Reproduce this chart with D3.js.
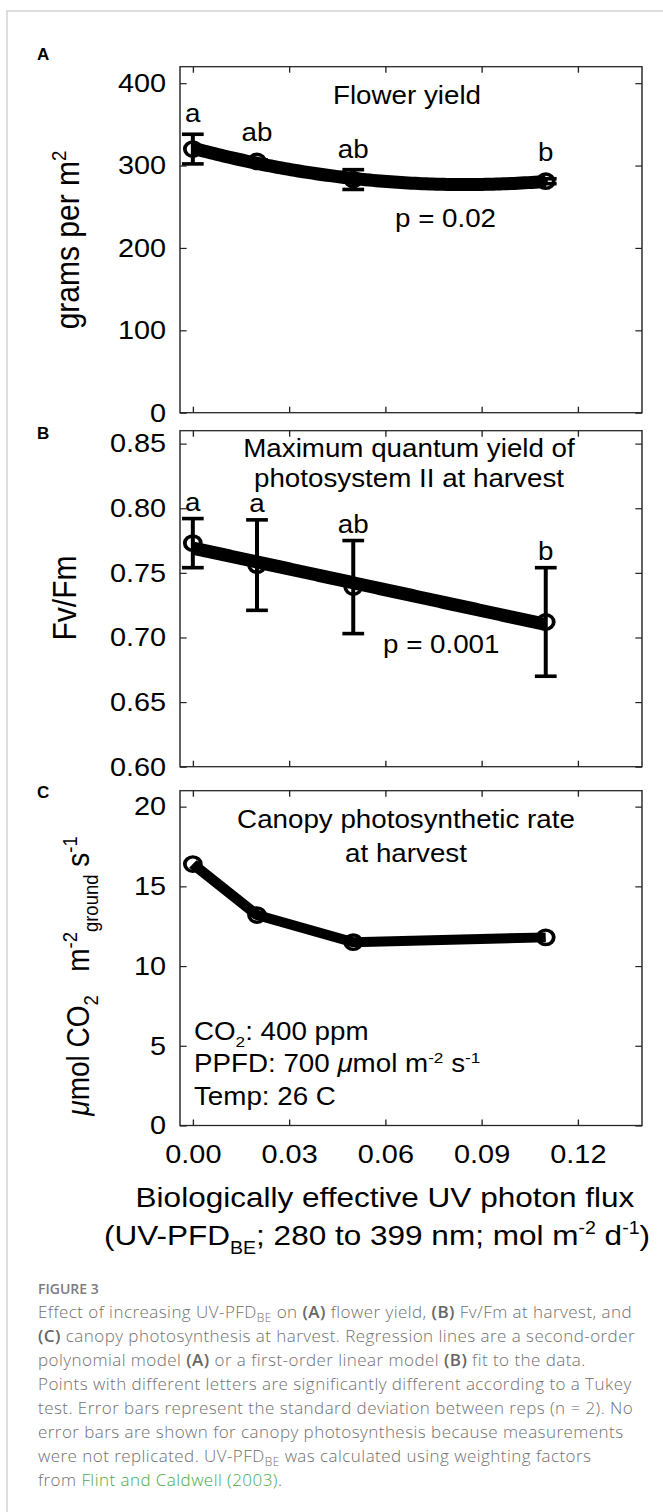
<!DOCTYPE html>
<html>
<head>
<meta charset="utf-8">
<script src="https://cdn.jsdelivr.net/npm/d3@7"></script>
<style>
  body { margin: 0; background: #fff; }
  svg { display: block; }
</style>
</head>
<body>
<div id="chart"></div>
<script>
// ---- 数据 ----
const uvFlux = [0, 0.02, 0.05, 0.11];

const flowerYield = [320, 305, 283, 281];
const flowerYieldSd = [18, 2, 12, 3];
const flowerLetters = ["a", "ab", "ab", "b"];

const fvFm = [0.773, 0.756, 0.739, 0.712];
const fvFmSd = [0.019, 0.035, 0.036, 0.042];
const fvFmLetters = ["a", "a", "ab", "b"];

const canopyRate = [16.4, 13.2, 11.5, 11.8];

const xTicks = [0, 0.03, 0.06, 0.09, 0.12];
const yTicksA = [0, 100, 200, 300, 400];
const yTicksB = [0.60, 0.65, 0.70, 0.75, 0.80, 0.85];
const yTicksC = [0, 5, 10, 15, 20];

const captionLines = [
  [["Effect of increasing UV-PFD"], ["BE", "sub"], [" on "], ["(A)", "b"], [" flower yield, "], ["(B)", "b"], [" Fv/Fm at harvest, and"]],
  [["(C)", "b"], [" canopy photosynthesis at harvest. Regression lines are a second-order"]],
  [["polynomial model "], ["(A)", "b"], [" or a first-order linear model "], ["(B)", "b"], [" fit to the data."]],
  [["Points with different letters are significantly different according to a Tukey"]],
  [["test. Error bars represent the standard deviation between reps (n = 2). No"]],
  [["error bars are shown for canopy photosynthesis because measurements"]],
  [["were not replicated. UV-PFD"], ["BE", "sub"], [" was calculated using weighting factors"]],
  [["from "], ["Flint and Caldwell (2003)", "link"], ["."]]
];

// ---- 布局 ----
const W = 663, H = 1512;
const SX = 1.11;               // 原图横向被拉伸
const sx = v => v / SX;        // 屏幕 x -> 拉伸前坐标
const plotL = 180, plotR = 642;

const svg = d3.select("#chart").append("svg")
  .attr("width", W).attr("height", H)
  .style("font-family", "'Liberation Sans', Arial, Helvetica, sans-serif");

// 外框（左、上）
svg.append("path")
  .attr("d", `M7,${H} V11 H${W}`)
  .attr("fill", "none").attr("stroke", "#d2d2d2").attr("stroke-width", 1.5);

const fig = svg.append("g").attr("transform", `scale(${SX},1)`);

const x = d3.scaleLinear().domain([-0.004, 0.14]).range([sx(plotL), sx(plotR)]);

// 带上下标的文字
function rich(sel, parts, size, small = 0.62) {
  let shift = 0;
  parts.forEach(([str, kind]) => {
    const target = kind === "sub" ? size * 0.3 : kind === "sup" ? -size * 0.38 : 0;
    const ts = sel.append("tspan").attr("dy", target - shift).text(str);
    if (kind === "sub" || kind === "sup") ts.attr("font-size", size * small);
    if (kind === "it") ts.attr("font-style", "italic");
    shift = target;
  });
}

// 多项式最小二乘拟合
function polyfit(xs, ys, deg) {
  const n = deg + 1;
  const A = d3.range(n).map(() => new Array(n + 1).fill(0));
  xs.forEach((xv, k) => {
    for (let i = 0; i < n; i++) {
      for (let j = 0; j < n; j++) A[i][j] += Math.pow(xv, i + j);
      A[i][n] += ys[k] * Math.pow(xv, i);
    }
  });
  for (let i = 0; i < n; i++) {
    let p = i;
    for (let r = i + 1; r < n; r++) if (Math.abs(A[r][i]) > Math.abs(A[p][i])) p = r;
    [A[i], A[p]] = [A[p], A[i]];
    for (let r = 0; r < n; r++) {
      if (r === i) continue;
      const f = A[r][i] / A[i][i];
      for (let c = i; c <= n; c++) A[r][c] -= f * A[i][c];
    }
  }
  const coef = A.map((row, i) => row[n] / row[i]);
  return xv => coef.reduce((s, c, i) => s + c * Math.pow(xv, i), 0);
}

const NB = "\u00a0";
const panels = [
  { letter: "A", letterY: 60, top: 66.7, bottom: 412.7, domain: [0, 420], ticks: yTicksA, fmt: d3.format("d"),
    values: flowerYield, sd: flowerYieldSd, labels: flowerLetters, labelGap: 12, fit: 2, lineW: 13,
    yTitle: [["grams per m"], ["2", "sup"]], yTitleX: 79, yTitleY: 240, yTitleSize: 30, small: 0.62 },
  { letter: "B", letterY: 439, top: 430.7, bottom: 766.7, domain: [0.6, 0.86], ticks: yTicksB, fmt: d3.format(".2f"),
    values: fvFm, sd: fvFmSd, labels: fvFmLetters, labelGap: 7.5, fit: 1, lineW: 13,
    yTitle: [["Fv/Fm"]], yTitleX: 76, yTitleY: 598, yTitleSize: 30, small: 0.62 },
  { letter: "C", letterY: 798, top: 790.7, bottom: 1125.5, domain: [0, 21], ticks: yTicksC, fmt: d3.format("d"),
    values: canopyRate, sd: null, labels: null, fit: 0, lineW: 10,
    yTitle: [["\u03bc", "it"], ["mol CO"], ["2", "sub"], [NB + NB + NB + "m"], ["-2", "sup"], ["ground", "sub"], [NB + "s"], ["-1", "sup"]],
    yTitleX: 89, yTitleY: 976, yTitleSize: 28, small: 0.66 }
];

panels.forEach((p, pi) => {
  const y = d3.scaleLinear().domain(p.domain).range([p.bottom, p.top]);
  const g = fig.append("g");

  // 坐标轴（刻度朝内，四边）
  const tickLen = -6;
  g.append("g").attr("transform", `translate(${sx(plotL)},0)`)
    .call(d3.axisLeft(y).tickValues(p.ticks).tickFormat(p.fmt).tickSize(tickLen).tickPadding(12.6));
  g.append("g").attr("transform", `translate(${sx(plotR)},0)`)
    .call(d3.axisRight(y).tickValues(p.ticks).tickFormat("").tickSize(tickLen));
  g.append("g").attr("transform", `translate(0,${p.top})`)
    .call(d3.axisTop(x).tickValues(xTicks).tickFormat("").tickSize(tickLen));
  g.append("g").attr("transform", `translate(0,${p.bottom})`)
    .call(d3.axisBottom(x).tickValues(xTicks).tickFormat(pi === 2 ? d3.format(".2f") : "")
      .tickSize(tickLen).tickPadding(19.5));
  g.selectAll(".domain").remove();
  g.selectAll(".tick line").attr("stroke", "#222").attr("stroke-width", 1.2);
  g.selectAll(".tick text").attr("fill", "#000").attr("font-size", 26)
    .attr("font-family", "'Liberation Sans', Arial, sans-serif");

  g.append("rect")
    .attr("x", sx(plotL)).attr("y", p.top)
    .attr("width", sx(plotR) - sx(plotL)).attr("height", p.bottom - p.top)
    .attr("fill", "none").attr("stroke", "#262626").attr("stroke-width", 1.3);

  const pts = uvFlux.map((u, i) => ({ u, v: p.values[i], sd: p.sd ? p.sd[i] : 0, lab: p.labels ? p.labels[i] : null }));

  // 拟合线 / 折线
  if (p.fit > 0) {
    const f = polyfit(uvFlux, p.values, p.fit);
    const fx = d3.range(0, 0.1101, 0.0011);
    g.append("path")
      .datum(fx)
      .attr("fill", "none").attr("stroke", "#000").attr("stroke-width", p.lineW)
      .attr("d", d3.line().x(d => x(d)).y(d => y(f(d))));
  } else {
    g.append("path")
      .datum(pts)
      .attr("fill", "none").attr("stroke", "#000").attr("stroke-width", p.lineW)
      .attr("stroke-linejoin", "round")
      .attr("d", d3.line().x(d => x(d.u)).y(d => y(d.v)));
  }

  // 误差线
  if (p.sd) {
    const eb = g.append("g").attr("stroke", "#000").attr("stroke-width", 3.6);
    pts.forEach(d => {
      eb.append("line").attr("x1", x(d.u)).attr("x2", x(d.u)).attr("y1", y(d.v - d.sd)).attr("y2", y(d.v + d.sd));
      [d.v - d.sd, d.v + d.sd].forEach(v => {
        eb.append("line").attr("x1", x(d.u) - 9.8).attr("x2", x(d.u) + 9.8).attr("y1", y(v)).attr("y2", y(v));
      });
    });
  }

  // 数据点（空心圆）
  g.selectAll("circle.pt").data(pts).join("circle")
    .attr("class", "pt")
    .attr("cx", d => x(d.u)).attr("cy", d => y(d.v)).attr("r", 7.2)
    .attr("fill", "none").attr("stroke", "#000").attr("stroke-width", 3.4);

  // 显著性字母
  if (p.labels) {
    g.selectAll("text.sig").data(pts).join("text")
      .attr("class", "sig")
      .attr("x", d => x(d.u))
      .attr("y", d => Math.min(y(d.v + d.sd), y(d.v) - 8) - p.labelGap)
      .attr("text-anchor", "middle").attr("font-size", 25)
      .text(d => d.lab);
  }

  // y 轴标题
  const yt = g.append("text")
    .attr("transform", `translate(${sx(p.yTitleX)},${p.yTitleY}) rotate(-90)`)
    .attr("text-anchor", "middle").attr("font-size", p.yTitleSize);
  rich(yt, p.yTitle, p.yTitleSize, p.small);

  // 面板字母
  svg.append("text").attr("x", 37).attr("y", p.letterY)
    .attr("font-size", 17).attr("font-weight", "bold").text(p.letter);
});

// 面板内文字
function label(lines, cx, y0, dy, anchor) {
  lines.forEach((parts, i) => {
    const t = fig.append("text")
      .attr("x", sx(cx)).attr("y", y0 + i * dy)
      .attr("text-anchor", anchor).attr("font-size", 25);
    rich(t, parts, 25);
  });
}
label([[["Flower yield"]]], 407, 104, 0, "middle");
label([[["p = 0.02"]]], 395, 227, 0, "start");
label([[["Maximum quantum yield of"]], [["photosystem II at harvest"]]], 409, 456.7, 30.6, "middle");
label([[["p = 0.001"]]], 383, 653, 0, "start");
label([[["Canopy photosynthetic rate"]], [["at harvest"]]], 406, 828.3, 33.4, "middle");
label([
  [["CO"], ["2", "sub"], [": 400 ppm"]],
  [["PPFD: 700 "], ["\u03bc", "it"], ["mol m"], ["-2", "sup"], [" s"], ["-1", "sup"]],
  [["Temp: 26 C"]]
], 194, 1040, 32.5, "start");

// x 轴标题
const xt1 = fig.append("text").attr("x", sx(385)).attr("y", 1206.7)
  .attr("text-anchor", "middle").attr("font-size", 28.4);
rich(xt1, [["Biologically effective UV photon flux"]], 28.4);
const xt2 = fig.append("text").attr("x", sx(377)).attr("y", 1245)
  .attr("text-anchor", "middle").attr("font-size", 28.4);
rich(xt2, [["(UV-PFD"], ["BE", "sub"], ["; 280 to 399 nm; mol m"], ["-2", "sup"], [" d"], ["-1", "sup"], [")"]], 28.4);

// ---- 图注 ----
const cap = svg.append("g").style("font-family", "'Open Sans', Lato, sans-serif");
cap.append("text").attr("x", 38).attr("y", 1294)
  .attr("font-size", 14).attr("font-weight", 600).attr("fill", "#7d7d7d")
  .text("FIGURE 3");
captionLines.forEach((parts, i) => {
  const t = cap.append("text").attr("x", 38).attr("y", 1318.3 + i * 24)
    .attr("font-size", 17).attr("font-weight", 300).attr("fill", "#707070")
    .attr("letter-spacing", 0.45);
  let shift = 0;
  parts.forEach(([str, kind]) => {
    const target = kind === "sub" ? 3.5 : 0;
    const ts = t.append("tspan").attr("dy", target - shift).text(str);
    if (kind === "sub") ts.attr("font-size", 12);
    if (kind === "b") ts.attr("font-weight", 600).attr("fill", "#666");
    if (kind === "link") ts.attr("fill", "#4aa94a");
    shift = target;
  });
});
</script>
</body>
</html>
